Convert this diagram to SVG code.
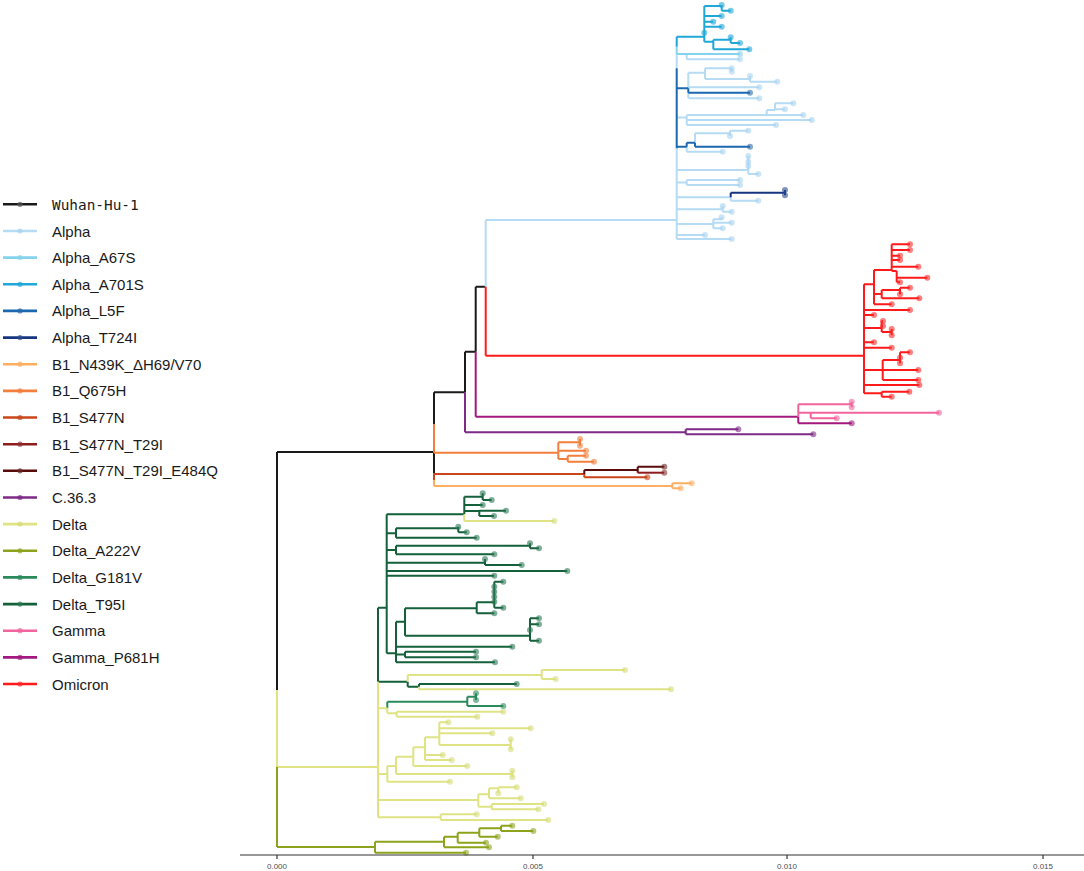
<svg xmlns="http://www.w3.org/2000/svg" width="1084" height="871" viewBox="0 0 1084 871">
<style>
path{fill:none;stroke-width:2}
circle{stroke:none;fill-opacity:.6}
text{stroke:none}
.k{stroke:#1a1a1a;fill:#555}
.al{stroke:#b5dbf5;fill:#a9d3f0}
.a67{stroke:#84d2ec;fill:#84d2ec}
.a701{stroke:#1fa7d8;fill:#1fa7d8}
.l5f{stroke:#1b68b0;fill:#2a6aa8}
.t724{stroke:#16357f;fill:#2a4a8f}
.n439{stroke:#fdae61;fill:#fdae61}
.q675{stroke:#f47e3c;fill:#f47e3c}
.s477{stroke:#c9461b;fill:#c9461b}
.t29{stroke:#8e1c1c;fill:#8e3030}
.e484{stroke:#5a0b0b;fill:#6a2a2a}
.c36{stroke:#7d2b87;fill:#7d2b87}
.dl{stroke:#dfe384;fill:#d6dc78}
.a222{stroke:#8ea31c;fill:#8ea31c}
.g181{stroke:#2b8a5b;fill:#2b8a5b}
.t95{stroke:#13603a;fill:#2b7a55}
.gm{stroke:#f2649c;fill:#f2649c}
.p681{stroke:#a3187f;fill:#a3187f}
.om{stroke:#fe1a1a;fill:#fe2a2a}
.lg path{stroke-width:2.6}
.lg circle{fill-opacity:.7}
.lg text.lt{font-family:"Liberation Sans",Arial,sans-serif;font-size:15px;fill:#1a1a1a;stroke:none}
.lg text.mono{font-family:"DejaVu Sans Mono",monospace;font-size:14.4px;fill:#1a1a1a;stroke:none}
.ax{font-family:"Liberation Sans",Arial,sans-serif;font-size:8px;fill:#4d4d4d;text-anchor:middle}
</style>
<g id="branches">
<path class="k" d="M277,452V690M277,452H434M434,392.3V424M434,452.7V473.3M434,392.3H465M465,351.7V392.3M465,351.7H475.7M475.7,286.7V351.7M475.7,286.7H485.7"/>
<path class="al" d="M485.7,220V286.7M485.7,220H676.7M676.7,54V68.3M676.7,148.3V239M686.7,54V59.3M686.7,59.3H740M688.3,72.7V88.3M688.3,92.7V98.3M688.3,72.7H705M705,68.3V79M705,68.3H731.7M731.7,68.3V71.7M705,79H750M750,76V81.7M750,81.7H777.3M688.3,87.3H759.3M688.3,98.3H759.3M676.7,117.5H686.7M686.7,115V125M686.7,115H766.7M766.7,110V115M766.7,110H775M775,103.3V109.3M775,103.3H793.3M775,109.3H785M766.7,115H803.3M686.7,120H811.7M686.7,125H776M686.7,146.7V151.7M695,133.3V142.7M695,133.3H730M730,130.7V136M730,130.7H748.3M686.7,151.7H722.7M676.7,170H748.3M748.3,156V174M748.3,174H758.3M676.7,182.5H686.7M686.7,180V185M686.7,180H740M686.7,185H740M676.7,197.3H730.7M730.7,197.3V200.7M730.7,200.7H758.3M676.7,209.3H722.7M722.7,206V211.7M722.7,211.7H731.7M676.7,224H713.3M713.3,219.3V228.3M713.3,219.3H721.7M721.7,217.3V219.3M713.3,222.7H731.7M713.3,228.3H722.7M676.7,235H705M676.7,239H731.7"/>
<path class="a67" d="M676.7,46.7V54M676.7,54H740"/>
<path class="a701" d="M676.7,36.7V46.7M676.7,36.7H704.3M704.3,6V41.7M704.3,6H721.7M721.7,5V10.7M721.7,10.7H730.7M704.3,16H721.7M704.3,21.7H713.3M704.3,26.7H721.7M704.3,41.7H713.3M713.3,39.7V49.3M713.3,39.7H730.7M730.7,37.3V43M730.7,43H740M713.3,49.3H749.3"/>
<path class="l5f" d="M676.7,68.3V148.3M676.7,88.3H688.3M688.3,88.3V92.7M688.3,92.7H750M676.7,146.7H686.7M686.7,142.7V146.7M686.7,142.7H695M695,142.7V146.7M695,146.7H750"/>
<path class="t724" d="M730.7,192.7V197.3M730.7,192.7H785M785,190V195.3"/>
<path class="om" d="M485.7,286.7V355.7M485.7,355.7H864M864,284.3V393.3M864,284.3H874M874,270V304.3M874,270H891.7M891.7,244.3V271M891.7,244.3H910M891.7,250H910M891.7,255.7H900M891.7,260H900M891.7,266.7H918.3M891.7,271H896.7M896.7,271V282.3M896.7,277.7H927.3M896.7,282.3H900M874,294H881.7M881.7,290V298.3M881.7,290H900M900,287.7V294.3M900,287.7H910M881.7,298.3H919.3M874,304.3H891.7M864,310H910M864,315H874M864,328H881.7M881.7,321V332M881.7,321H883M881.7,326H883M881.7,332H891.7M891.7,329V335.3M864,342.3H874M864,347.7H891.7M864,370H882.7M882.7,360V380M882.7,360H900M900,352.3V363.3M900,352.3H910M882.7,370H918.3M882.7,380H918.3M864,385H919.3M864,393.3H881.7M881.7,391.7V396.7M881.7,391.7H909.3M881.7,396.7H891.7"/>
<path class="p681" d="M475.7,351.7V416.7M475.7,416.7H798.3M798.3,416.7V423.3M798.3,423.3H851.7"/>
<path class="gm" d="M798.3,404.3V416.7M798.3,404.3H851.7M851.7,401.7V407.3M798.3,412.7H810.7M810.7,412.7V418.3M810.7,412.7H939M810.7,418.3H836.7"/>
<path class="c36" d="M465,392.3V432.3M465,432.3H685.7M685.7,429.3V434.3M685.7,429.3H738.3M685.7,434.3H813.3"/>
<path class="q675" d="M434,424V452.7M434,452.7H558.3M558.3,442.3V459M558.3,442.3H580M580,439V445.7M558.3,450.7H586M558.3,459H567.7M567.7,455.7V461.7M567.7,455.7H586M567.7,461.7H594"/>
<path class="s477" d="M434,473.3V480M434,474H584.3M584.3,474V477.3M584.3,477.3H647.3"/>
<path class="e484" d="M584.3,470V474M584.3,470H637.7M637.7,466.7V472.7M637.7,466.7H664.3"/>
<path class="t29" d="M637.7,472.7H664.3"/>
<path class="n439" d="M434,480V486M434,486H672.3M672.3,483.3V488.3M672.3,483.3H691.7M672.3,488.3H680.7"/>
<path class="t95" d="M378,607.7V681.7M378,607.7H386.7M386.7,514.3V653.3M386.7,514.3H464.3M464.3,496.7V514.3M464.3,496.7H482.7M482.7,493.3V500M482.7,500H491.7M464.3,505H482.7M464.3,511H479.3M479.3,510.7V516M479.3,510.7H506M479.3,516H494M386.7,533.3H396M396,528.3V537.7M396,528.3H458.3M458.3,526.7V532.3M458.3,532.3H466.7M396,537.7H476.7M386.7,550H396M396,545.7V554.3M396,545.7H530M530,543.3V548.3M530,548.3H539M396,554.3H494.3M386.7,562.7H485M485,559V565M485,565H521.7M386.7,571H567.3M386.7,575.7H494.3M386.7,653.3H396M396,621.7V662.3M396,621.7H405M405,608.3V635.7M405,608.3H476.7M476.7,602.3V613.3M476.7,602.3H494.3M494.3,581.7V607.7M494.3,581.7H503.3M494.3,607.7H503.3M476.7,613.3H494.3M405,635.7H530M530,618.3V640.7M530,618.3H539M530,624.3H539M530,640.7H539M396,646.7H512.3M396,654.5H405M405,651.7V657.3M405,651.7H476M405,657.3H476M396,662.3H495M378,681.7H407.7M407.7,681.7V686.7M407.7,686.7H419M419,684V686.7M419,684H516.7"/>
<path class="g181" d="M387.3,701.7V708.3M387.3,701.7H467.3M467.3,696.7V706M467.3,696.7H476M476,693.3V700M467.3,706H503.3"/>
<path class="dl" d="M277,690V767M277,767H378M378,681.7V817.3M464.3,514.3V521M464.3,521H554.3M407.7,675V681.7M407.7,675H541.7M541.7,670V679M541.7,670H625M541.7,679H555.7M419,686.7V689.3M419,689.3H671M378,708.3H387.3M387.3,708.3V713.3M387.3,713.3H396.7M396.7,711.7V716.7M396.7,711.7H503.3M396.7,716.7H477.3M378,774H387.3M387.3,766V781.7M387.3,766H396M396,756.7V774M396,756.7H413.3M413.3,747.3V766M413.3,747.3H425M425,737.3V760M425,737.3H439.3M439.3,722.3V745M439.3,722.3H448.3M439.3,728.3H530.7M439.3,733.3H492.3M439.3,745H510.7M510.7,739.3V749.3M425,755H442.7M425,760H451.7M413.3,766H467.3M396,774H512.3M512.3,770.7V777.3M387.3,781.7H450M378,800H478.3M478.3,794.3V806.7M478.3,794.3H489M489,788.3V798.3M489,788.3H498.3M498.3,787.3V793.3M498.3,787.3H516.7M489,798.3H520.7M478.3,806.7H491.7M491.7,804V809.3M491.7,804H544M491.7,809.3H538.3M378,817.3H440.7M440.7,814.3V820M440.7,814.3H476.7M440.7,820H548.3"/>
<path class="a222" d="M277,767V847M277,847H375M375,841.7V852.7M375,841.7H444M375,852.7H466M444,836.7V847.3M444,836.7H457.7M444,847.3H489M457.7,832.7V842.7M457.7,832.7H479.3M457.7,842.7H486M479.3,828.3V836.7M479.3,828.3H501M479.3,836.7H497.7M501,825.7V831M501,825.7H512.3M501,831H533.3"/>
</g>
<g id="tips">
<g id="tips-alpha" class="al"><circle cx="740" cy="59.3" r="3"/><circle cx="731.7" cy="68.3" r="3"/><circle cx="731.7" cy="71.7" r="3"/><circle cx="750" cy="76" r="3"/><circle cx="777.3" cy="81.7" r="3"/><circle cx="759.3" cy="87.3" r="3"/><circle cx="759.3" cy="98.3" r="3"/><circle cx="793.3" cy="103.3" r="3"/><circle cx="785" cy="109.3" r="3"/><circle cx="803.3" cy="115" r="3"/><circle cx="811.7" cy="120" r="3"/><circle cx="776" cy="125" r="3"/><circle cx="748.3" cy="130.7" r="3"/><circle cx="730" cy="136" r="3"/><circle cx="722.7" cy="151.7" r="3"/><circle cx="748.3" cy="156" r="3"/><circle cx="748.3" cy="161.7" r="3"/><circle cx="748.3" cy="166" r="3"/><circle cx="758.3" cy="174" r="3"/><circle cx="740" cy="180" r="3"/><circle cx="740" cy="185" r="3"/><circle cx="758.3" cy="200.7" r="3"/><circle cx="722.7" cy="206" r="3"/><circle cx="731.7" cy="211.7" r="3"/><circle cx="721.7" cy="217.3" r="3"/><circle cx="731.7" cy="222.7" r="3"/><circle cx="722.7" cy="228.3" r="3"/><circle cx="705" cy="235" r="3"/><circle cx="731.7" cy="239" r="3"/></g>
<g id="tips-a67" class="a67"><circle cx="740" cy="54" r="3"/></g>
<g id="tips-a701" class="a701"><circle cx="721.7" cy="5" r="3"/><circle cx="730.7" cy="10.7" r="3"/><circle cx="721.7" cy="16" r="3"/><circle cx="713.3" cy="21.7" r="3"/><circle cx="721.7" cy="26.7" r="3"/><circle cx="704.3" cy="32.7" r="3"/><circle cx="730.7" cy="37.3" r="3"/><circle cx="740" cy="43" r="3"/><circle cx="749.3" cy="49.3" r="3"/></g>
<g id="tips-l5f" class="l5f"><circle cx="750" cy="92.7" r="3"/><circle cx="750" cy="146.7" r="3"/></g>
<g id="tips-t724" class="t724"><circle cx="785" cy="190" r="3"/><circle cx="785" cy="195.3" r="3"/></g>
<g id="tips-omicron" class="om"><circle cx="910" cy="244.3" r="3"/><circle cx="910" cy="250" r="3"/><circle cx="900" cy="255.7" r="3"/><circle cx="900" cy="260" r="3"/><circle cx="918.3" cy="266.7" r="3"/><circle cx="927.3" cy="277.7" r="3"/><circle cx="900" cy="282.3" r="3"/><circle cx="910" cy="287.7" r="3"/><circle cx="900" cy="294.3" r="3"/><circle cx="919.3" cy="298.3" r="3"/><circle cx="891.7" cy="304.3" r="3"/><circle cx="910" cy="310" r="3"/><circle cx="874" cy="315" r="3"/><circle cx="883" cy="321" r="3"/><circle cx="883" cy="326" r="3"/><circle cx="891.7" cy="329" r="3"/><circle cx="891.7" cy="335.3" r="3"/><circle cx="874" cy="342.3" r="3"/><circle cx="891.7" cy="347.7" r="3"/><circle cx="910" cy="352.3" r="3"/><circle cx="900" cy="357.7" r="3"/><circle cx="900" cy="363.3" r="3"/><circle cx="918.3" cy="370" r="3"/><circle cx="918.3" cy="380" r="3"/><circle cx="919.3" cy="385" r="3"/><circle cx="909.3" cy="391.7" r="3"/><circle cx="891.7" cy="396.7" r="3"/></g>
<g id="tips-gamma" class="gm"><circle cx="851.7" cy="401.7" r="3"/><circle cx="851.7" cy="407.3" r="3"/><circle cx="939" cy="412.7" r="3"/><circle cx="836.7" cy="418.3" r="3"/></g>
<g id="tips-p681" class="p681"><circle cx="851.7" cy="423.3" r="3"/></g>
<g id="tips-c36" class="c36"><circle cx="738.3" cy="429.3" r="3"/><circle cx="813.3" cy="434.3" r="3"/></g>
<g id="tips-q675" class="q675"><circle cx="580" cy="439" r="3"/><circle cx="580" cy="445.7" r="3"/><circle cx="586" cy="450.7" r="3"/><circle cx="586" cy="455.7" r="3"/><circle cx="594" cy="461.7" r="3"/></g>
<g id="tips-e484" class="e484"><circle cx="664.3" cy="466.7" r="3"/></g>
<g id="tips-t29" class="t29"><circle cx="664.3" cy="472.7" r="3"/></g>
<g id="tips-s477" class="s477"><circle cx="647.3" cy="477.3" r="3"/></g>
<g id="tips-n439" class="n439"><circle cx="691.7" cy="483.3" r="3"/><circle cx="680.7" cy="488.3" r="3"/></g>
<g id="tips-t95" class="t95"><circle cx="482.7" cy="493.3" r="3"/><circle cx="491.7" cy="500" r="3"/><circle cx="482.7" cy="505" r="3"/><circle cx="506" cy="510.7" r="3"/><circle cx="494" cy="516" r="3"/><circle cx="458.3" cy="526.7" r="3"/><circle cx="466.7" cy="532.3" r="3"/><circle cx="476.7" cy="537.7" r="3"/><circle cx="530" cy="543.3" r="3"/><circle cx="539" cy="548.3" r="3"/><circle cx="494.3" cy="554.3" r="3"/><circle cx="485" cy="559" r="3"/><circle cx="521.7" cy="565" r="3"/><circle cx="567.3" cy="571" r="3"/><circle cx="494.3" cy="575.7" r="3"/><circle cx="503.3" cy="581.7" r="3"/><circle cx="494.3" cy="586.7" r="3"/><circle cx="494.3" cy="591.7" r="3"/><circle cx="494.3" cy="596.7" r="3"/><circle cx="494.3" cy="601.7" r="3"/><circle cx="503.3" cy="607.7" r="3"/><circle cx="494.3" cy="613.3" r="3"/><circle cx="539" cy="618.3" r="3"/><circle cx="539" cy="624.3" r="3"/><circle cx="530" cy="630" r="3"/><circle cx="539" cy="640.7" r="3"/><circle cx="512.3" cy="646.7" r="3"/><circle cx="476" cy="651.7" r="3"/><circle cx="476" cy="657.3" r="3"/><circle cx="495" cy="662.3" r="3"/><circle cx="516.7" cy="684" r="3"/></g>
<g id="tips-g181" class="g181"><circle cx="476" cy="693.3" r="3"/><circle cx="476" cy="700" r="3"/><circle cx="503.3" cy="706" r="3"/></g>
<g id="tips-delta" class="dl"><circle cx="554.3" cy="521" r="3"/><circle cx="625" cy="670" r="3"/><circle cx="555.7" cy="679" r="3"/><circle cx="671" cy="689.3" r="3"/><circle cx="503.3" cy="711.7" r="3"/><circle cx="477.3" cy="716.7" r="3"/><circle cx="448.3" cy="722.3" r="3"/><circle cx="530.7" cy="728.3" r="3"/><circle cx="492.3" cy="733.3" r="3"/><circle cx="510.7" cy="739.3" r="3"/><circle cx="510.7" cy="749.3" r="3"/><circle cx="442.7" cy="755" r="3"/><circle cx="451.7" cy="760" r="3"/><circle cx="467.3" cy="766" r="3"/><circle cx="512.3" cy="770.7" r="3"/><circle cx="512.3" cy="777.3" r="3"/><circle cx="450" cy="781.7" r="3"/><circle cx="516.7" cy="787.3" r="3"/><circle cx="498.3" cy="793.3" r="3"/><circle cx="520.7" cy="798.3" r="3"/><circle cx="544" cy="804" r="3"/><circle cx="538.3" cy="809.3" r="3"/><circle cx="476.7" cy="814.3" r="3"/><circle cx="548.3" cy="820" r="3"/></g>
<g id="tips-a222" class="a222"><circle cx="512.3" cy="825.7" r="3"/><circle cx="533.3" cy="831" r="3"/><circle cx="497.7" cy="836.7" r="3"/><circle cx="486" cy="842.7" r="3"/><circle cx="489" cy="847.3" r="3"/><circle cx="466" cy="852.7" r="3"/></g>
</g>
<g id="axis">
<path d="M240,855H1084M277,855V859M533,855V859M787,855V859M1043,855V859" style="stroke:#333;stroke-width:1.2"/>
<text class="ax" x="277" y="869">0.000</text>
<text class="ax" x="533" y="869">0.005</text>
<text class="ax" x="787" y="869">0.010</text>
<text class="ax" x="1043" y="869">0.015</text>
</g>
<g id="legend" class="lg">
<g id="lg-wuhan" class="k"><path d="M3,204.3H37"/><circle cx="20" cy="204.3" r="2.6"/><text class="mono" x="52" y="209.5">Wuhan-Hu-1</text></g>
<g id="lg-alpha" class="al"><path d="M3,231H37"/><circle cx="20" cy="231" r="2.6"/><text class="lt" x="52" y="236.5">Alpha</text></g>
<g id="lg-a67s" class="a67"><path d="M3,257.6H37"/><circle cx="20" cy="257.6" r="2.6"/><text class="lt" x="52" y="263.1">Alpha_A67S</text></g>
<g id="lg-a701s" class="a701"><path d="M3,284.3H37"/><circle cx="20" cy="284.3" r="2.6"/><text class="lt" x="52" y="289.8">Alpha_A701S</text></g>
<g id="lg-l5f" class="l5f"><path d="M3,310.9H37"/><circle cx="20" cy="310.9" r="2.6"/><text class="lt" x="52" y="316.4">Alpha_L5F</text></g>
<g id="lg-t724i" class="t724"><path d="M3,337.6H37"/><circle cx="20" cy="337.6" r="2.6"/><text class="lt" x="52" y="343.1">Alpha_T724I</text></g>
<g id="lg-n439k" class="n439"><path d="M3,364.2H37"/><circle cx="20" cy="364.2" r="2.6"/><text class="lt" x="52" y="369.7">B1_N439K_ΔH69/V70</text></g>
<g id="lg-q675h" class="q675"><path d="M3,390.9H37"/><circle cx="20" cy="390.9" r="2.6"/><text class="lt" x="52" y="396.4">B1_Q675H</text></g>
<g id="lg-s477n" class="s477"><path d="M3,417.5H37"/><circle cx="20" cy="417.5" r="2.6"/><text class="lt" x="52" y="423">B1_S477N</text></g>
<g id="lg-t29i" class="t29"><path d="M3,444.2H37"/><circle cx="20" cy="444.2" r="2.6"/><text class="lt" x="52" y="449.7">B1_S477N_T29I</text></g>
<g id="lg-e484q" class="e484"><path d="M3,470.8H37"/><circle cx="20" cy="470.8" r="2.6"/><text class="lt" x="52" y="476.3">B1_S477N_T29I_E484Q</text></g>
<g id="lg-c363" class="c36"><path d="M3,497.5H37"/><circle cx="20" cy="497.5" r="2.6"/><text class="lt" x="52" y="503">C.36.3</text></g>
<g id="lg-delta" class="dl"><path d="M3,524.1H37"/><circle cx="20" cy="524.1" r="2.6"/><text class="lt" x="52" y="529.6">Delta</text></g>
<g id="lg-a222v" class="a222"><path d="M3,550.8H37"/><circle cx="20" cy="550.8" r="2.6"/><text class="lt" x="52" y="556.3">Delta_A222V</text></g>
<g id="lg-g181v" class="g181"><path d="M3,577.4H37"/><circle cx="20" cy="577.4" r="2.6"/><text class="lt" x="52" y="582.9">Delta_G181V</text></g>
<g id="lg-t95i" class="t95"><path d="M3,604.1H37"/><circle cx="20" cy="604.1" r="2.6"/><text class="lt" x="52" y="609.6">Delta_T95I</text></g>
<g id="lg-gamma" class="gm"><path d="M3,630.7H37"/><circle cx="20" cy="630.7" r="2.6"/><text class="lt" x="52" y="636.2">Gamma</text></g>
<g id="lg-p681h" class="p681"><path d="M3,657.4H37"/><circle cx="20" cy="657.4" r="2.6"/><text class="lt" x="52" y="662.9">Gamma_P681H</text></g>
<g id="lg-omicron" class="om"><path d="M3,684H37"/><circle cx="20" cy="684" r="2.6"/><text class="lt" x="52" y="689.5">Omicron</text></g>
</g>
</svg>
